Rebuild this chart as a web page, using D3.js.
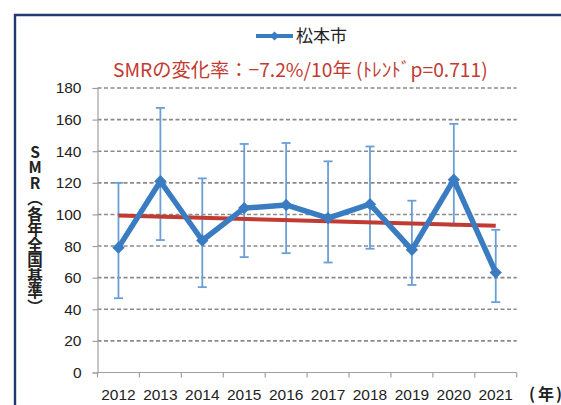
<!DOCTYPE html>
<html>
<head>
<meta charset="utf-8">
<script src="https://cdn.jsdelivr.net/npm/d3@7"></script>
<style>
  html, body { margin: 0; padding: 0; background: #fff; }
  svg { display: block; }
  .vlabel { writing-mode: vertical-rl; text-orientation: upright; }
</style>
</head>
<body>
<svg id="chart" width="561" height="405"></svg>
<script>
// SMR by year for 松本市 with 95% intervals and linear trend
const years = ["2012", "2013", "2014", "2015", "2016", "2017", "2018", "2019", "2020", "2021"];
const smr = [79, 121, 83.5, 104, 106, 97.7, 106.5, 77.6, 122, 63.2];
const ciLow = [47, 83.8, 54, 73, 75.5, 69.6, 78.3, 55.4, 93, 44.5];
const ciHigh = [120, 167.4, 122.8, 144.6, 145.2, 133.6, 143, 108.7, 157.3, 90.3];
const trendEnds = [99.4, 92.8];
const yTicks = [0, 20, 40, 60, 80, 100, 120, 140, 160, 180];

const seriesName = "松本市";
const titleText = "SMRの変化率：−7.2%/10年 (ﾄﾚﾝﾄﾞp=0.711)";
const yTitle = "SMR（各年全国基準）";
const xUnitChars = ["(", "年", ")"];

const blue = "#3A7CC2";
const errBlue = "#6A9FD6";
const red = "#C23B33";
const cjk = "'Noto Sans CJK JP', 'Noto Sans', sans-serif";
const num = "'Liberation Sans', Arial, sans-serif";

const svg = d3.select("#chart");

const x = d3.scaleBand().domain(years).range([97.5, 516.7]).padding(0);
const y = d3.scaleLinear().domain([0, 180]).range([372.5, 88]);
const cx = d => x(d) + x.bandwidth() / 2;

// outer frame (top and left edges)
svg.append("path")
  .attr("d", "M15,410 L15,15 L566,15")
  .attr("fill", "none")
  .attr("stroke", "#203A70")
  .attr("stroke-width", 2.4);

// horizontal dashed gridlines
svg.append("g").selectAll("line")
  .data(yTicks.filter(t => t > 0))
  .join("line")
  .attr("x1", x.range()[0]).attr("x2", x.range()[1])
  .attr("y1", d => y(d)).attr("y2", d => y(d))
  .attr("stroke", "#8a8a8a")
  .attr("stroke-width", 1.6)
  .attr("stroke-dasharray", "4,2.5");

// y axis
const yAxis = svg.append("g")
  .attr("transform", `translate(${x.range()[0]},0)`)
  .call(d3.axisLeft(y).tickValues(yTicks).tickSize(5).tickPadding(11));
yAxis.select(".domain").attr("stroke", "#a0a0a0").attr("stroke-width", 1.2);
yAxis.selectAll(".tick line").attr("stroke", "#a0a0a0").attr("stroke-width", 1.2);
yAxis.selectAll("text")
  .attr("font-family", num).attr("font-size", 15.5).attr("fill", "#222");

// x axis, ticks at category boundaries
const xAxis = svg.append("g")
  .attr("transform", `translate(0,${y(0)})`);
xAxis.append("line")
  .attr("x1", x.range()[0]).attr("x2", x.range()[1])
  .attr("stroke", "#a0a0a0").attr("stroke-width", 1.2);
xAxis.selectAll("line.tk")
  .data(years.map(d => x(d)).concat([x.range()[1]]))
  .join("line").attr("class", "tk")
  .attr("x1", d => d).attr("x2", d => d)
  .attr("y1", 0).attr("y2", 5)
  .attr("stroke", "#a0a0a0").attr("stroke-width", 1.2);
xAxis.selectAll("text")
  .data(years)
  .join("text")
  .attr("x", d => cx(d))
  .attr("y", 27.5)
  .attr("text-anchor", "middle")
  .attr("font-family", num).attr("font-size", 15.5).attr("fill", "#222")
  .text(d => d);

// unit label "(年)" at the right end of the x axis
svg.append("text")
  .attr("y", 400)
  .attr("font-family", cjk).attr("font-size", 16).attr("font-weight", 700)
  .attr("fill", "#222")
  .selectAll("tspan")
  .data(xUnitChars)
  .join("tspan")
  .attr("x", (d, i) => [529, 538, 556][i])
  .text(d => d);

// y axis title, set in vertical writing mode
svg.append("text")
  .attr("class", "vlabel")
  .attr("x", 35).attr("y", 144)
  .attr("font-family", cjk).attr("font-size", 15.5).attr("font-weight", 700)
  .attr("fill", "#222")
  .text(yTitle);

// error bars
const eb = svg.append("g");
years.forEach((yr, i) => {
  const g = eb.append("g").attr("stroke", errBlue).attr("stroke-width", 1.8);
  g.append("line").attr("x1", cx(yr)).attr("x2", cx(yr))
    .attr("y1", y(ciLow[i])).attr("y2", y(ciHigh[i]));
  [ciLow[i], ciHigh[i]].forEach(v => {
    g.append("line").attr("x1", cx(yr) - 4.5).attr("x2", cx(yr) + 4.5)
      .attr("y1", y(v)).attr("y2", y(v));
  });
});

// linear trend
svg.append("line")
  .attr("x1", cx(years[0])).attr("y1", y(trendEnds[0]))
  .attr("x2", cx(years[years.length - 1])).attr("y2", y(trendEnds[1]))
  .attr("stroke", red).attr("stroke-width", 4);

// SMR line with diamond markers
const line = d3.line().x((d, i) => cx(years[i])).y(d => y(d));
svg.append("path")
  .datum(smr)
  .attr("d", line)
  .attr("fill", "none")
  .attr("stroke", blue)
  .attr("stroke-width", 5.5)
  .attr("stroke-linejoin", "round");

const diamond = d3.symbol().type(d3.symbolSquare).size(76);
svg.append("g").selectAll("path")
  .data(smr)
  .join("path")
  .attr("d", diamond)
  .attr("transform", (d, i) => `translate(${cx(years[i])},${y(d)}) rotate(45)`)
  .attr("fill", blue);

// title, sized so that it spans its intended width
const title = svg.append("text")
  .attr("x", 113).attr("y", 77)
  .attr("font-family", cjk).attr("font-size", 18)
  .attr("fill", red)
  .text(titleText);
const natural = title.node().getComputedTextLength();
if (natural > 0) title.attr("font-size", 18 * 375 / natural);

// legend
const lg = svg.append("g");
lg.append("line").attr("x1", 256).attr("x2", 293).attr("y1", 36).attr("y2", 36)
  .attr("stroke", blue).attr("stroke-width", 4);
lg.append("path").attr("d", d3.symbol().type(d3.symbolSquare).size(40))
  .attr("transform", "translate(274.5,36) rotate(45)").attr("fill", blue);
lg.append("text").attr("x", 296).attr("y", 42)
  .attr("font-family", cjk).attr("font-size", 17).attr("fill", "#222")
  .text(seriesName);
</script>
</body>
</html>
